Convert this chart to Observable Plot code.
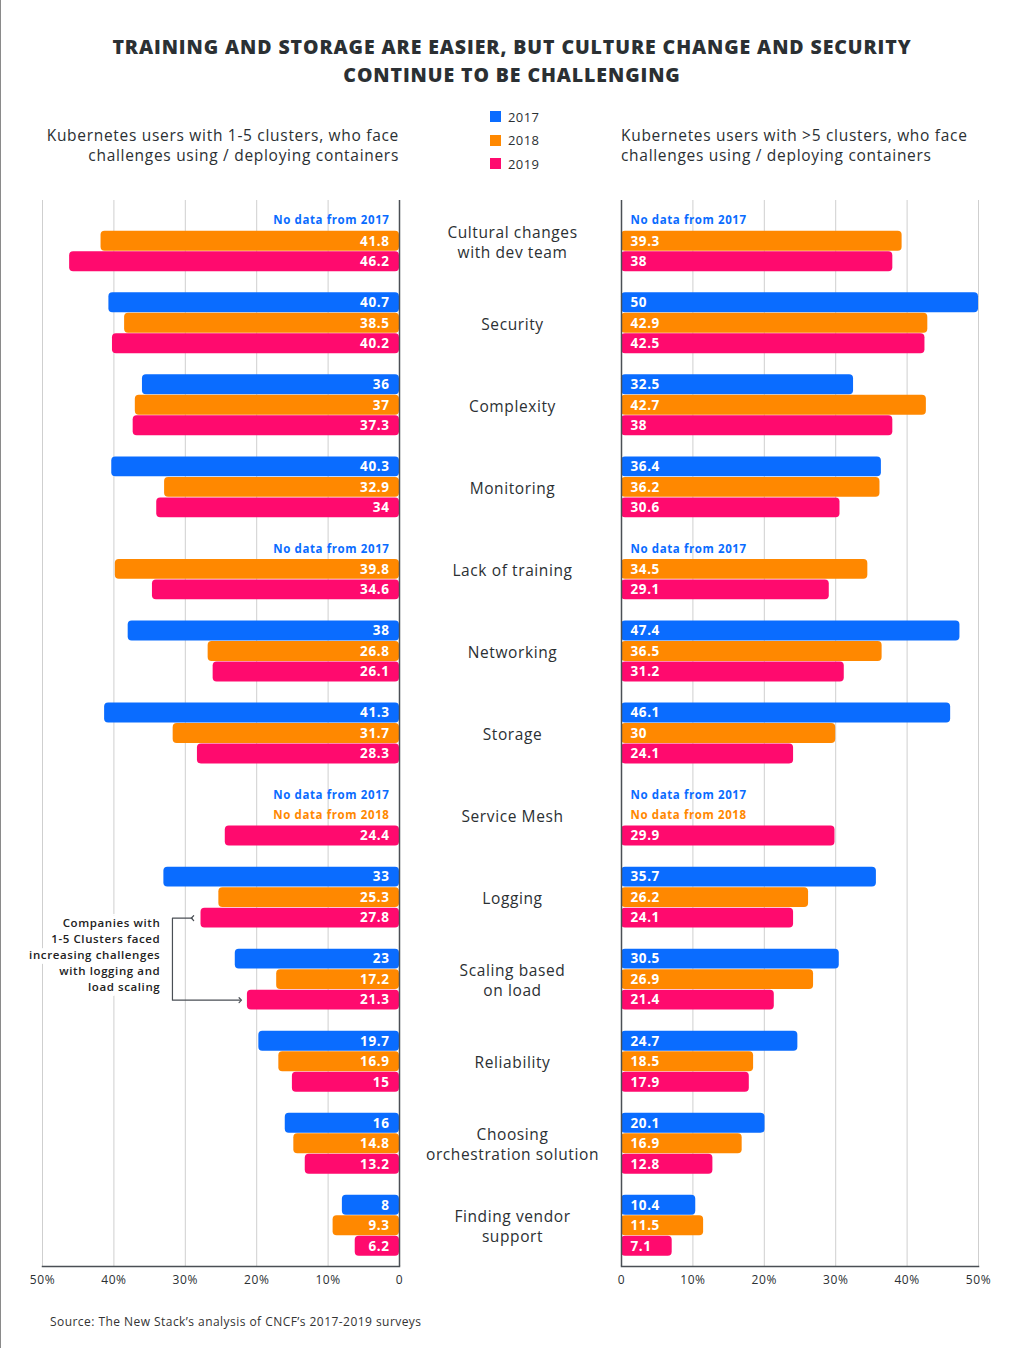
<!DOCTYPE html>
<html><head><meta charset="utf-8">
<script src="https://cdn.jsdelivr.net/npm/d3@7"></script>
<script src="https://cdn.jsdelivr.net/npm/@observablehq/plot@0.6"></script>
<style>
body{margin:0;background:#fff;}
#page{position:relative;width:1024px;height:1348px;font-family:"Open Sans",sans-serif;color:#2b3033;overflow:hidden;background:#fff;}
#border{position:absolute;left:0;top:0;width:1px;height:1348px;background:#8a8a8a;}
#title{position:absolute;left:0;top:33px;width:1024px;text-align:center;font-weight:800;font-size:19.5px;line-height:28px;color:#2b3033;letter-spacing:0.9px;}
.sub{position:absolute;top:125px;font-size:15.5px;line-height:20px;color:#2b3033;letter-spacing:0.7px;}
#subL{right:625px;text-align:right;}
#subR{left:621px;text-align:left;}
#legend{position:absolute;left:490px;top:105px;font-size:13px;letter-spacing:0.4px;}
#legend div{height:23.5px;display:flex;align-items:center;}
#legend span.sw{display:inline-block;width:11px;height:11px;margin-right:7px;}
#source{position:absolute;left:50px;top:1313px;font-size:12px;color:#333;letter-spacing:0.45px;}
.panel{position:absolute;top:190px;}
#left{left:0;}
#right{left:600px;}
</style></head><body>
<div id="page">
<div id="border"></div>
<div id="title">TRAINING AND STORAGE ARE EASIER, BUT CULTURE CHANGE AND SECURITY<br>CONTINUE TO BE CHALLENGING</div>
<div class="sub" id="subL">Kubernetes users with 1-5 clusters, who face<br>challenges using / deploying containers</div>
<div class="sub" id="subR">Kubernetes users with &gt;5 clusters, who face<br>challenges using / deploying containers</div>
<div id="legend"></div>
<div class="panel" id="left"></div>
<div class="panel" id="right"></div>
<div id="source">Source: The New Stack’s analysis of CNCF’s 2017-2019 surveys</div>
</div>
<script>
const categories = ["Cultural changes with dev team","Security","Complexity","Monitoring","Lack of training","Networking","Storage","Service Mesh","Logging","Scaling based on load","Reliability","Choosing orchestration solution","Finding vendor support"];
const categoryLines = ["Cultural changes\nwith dev team","Security","Complexity","Monitoring","Lack of training","Networking","Storage","Service Mesh","Logging","Scaling based\non load","Reliability","Choosing\norchestration solution","Finding vendor\nsupport"];
const years = [2017, 2018, 2019];
const yearColors = ["#0a6cff", "#ff8800", "#ff0a6e"];
// Kubernetes users with 1-5 clusters
const small2017 = [null, 40.7, 36, 40.3, null, 38, 41.3, null, 33, 23, 19.7, 16, 8];
const small2018 = [41.8, 38.5, 37, 32.9, 39.8, 26.8, 31.7, null, 25.3, 17.2, 16.9, 14.8, 9.3];
const small2019 = [46.2, 40.2, 37.3, 34, 34.6, 26.1, 28.3, 24.4, 27.8, 21.3, 15, 13.2, 6.2];
// Kubernetes users with >5 clusters
const large2017 = [null, 50, 32.5, 36.4, null, 47.4, 46.1, null, 35.7, 30.5, 24.7, 20.1, 10.4];
const large2018 = [39.3, 42.9, 42.7, 36.2, 34.5, 36.5, 30, null, 26.2, 26.9, 18.5, 16.9, 11.5];
const large2019 = [38, 42.5, 38, 30.6, 29.1, 31.2, 24.1, 29.9, 24.1, 21.4, 17.9, 12.8, 7.1];
const xTicks = [0, 10, 20, 30, 40, 50];
const annotationText = "Companies with\n1-5 Clusters faced\nincreasing challenges\nwith logging and\nload scaling";
const annotationCategories = ["Logging", "Scaling based on load"];

// legend
const legend = document.getElementById("legend");
years.forEach((y, i) => {
  const d = document.createElement("div");
  d.innerHTML = `<span class="sw" style="background:${yearColors[i]}"></span>${y}`;
  legend.appendChild(d);
});

const key = (c, y) => c + "|" + y;
const rowDomain = categories.flatMap((c, i) => {
  const r = years.map(y => key(c, y));
  if (i < categories.length - 1) r.push(key(c, "gap"));
  return r;
});
function rows(series) {
  return categories.flatMap((c, i) => years.map((y, j) => ({category: c, year: y, value: series[j][i], row: key(c, y)})));
}
const tickFormat = d => d === 0 ? "0" : d + "%";

function panel({series, isLeft}) {
  const data = rows(series);
  const bars = data.filter(d => d.value != null);
  const missing = data.filter(d => d.value == null);
  const anchor = isLeft ? "end" : "start";
  const dx = isLeft ? -10 : 9;
  const marks = [
    Plot.ruleX(xTicks.filter(t => t > 0), {stroke: "#cfcfcf", strokeWidth: 1})
  ];
  if (isLeft) {
    const lookup = (c, y) => data.find(d => d.category === c && d.year === y).value;
    const bracketX = 31.8;
    const pts = [
      {x: lookup(annotationCategories[0], 2019) + 1.2, row: key(annotationCategories[0], 2019)},
      {x: bracketX, row: key(annotationCategories[0], 2019)},
      {x: bracketX, row: key(annotationCategories[1], 2019)},
      {x: lookup(annotationCategories[1], 2019) + 1.0, row: key(annotationCategories[1], 2019)}
    ];
    marks.push(
      Plot.text([{t: annotationText, x: 33.5, row: key(annotationCategories[1], 2017)}], {
        x: "x", y: "row", text: "t", textAnchor: "end", fontSize: 11.5, lineHeight: 1.39, dy: -5,
        fill: "#222", fontWeight: 600, stroke: "white", strokeWidth: 10, paintOrder: "stroke", letterSpacing: 0.4
      }),
      Plot.line(pts, {x: "x", y: "row", stroke: "#4a4f55", strokeWidth: 1.2, markerStart: "arrow", markerEnd: "arrow"})
    );
  }
  marks.push(
    Plot.barX(bars, {x1: 0, x2: "value", y: "row", fill: "year", rx: 4}),
    Plot.text(bars, {x: 0, y: "row", text: d => String(d.value), textAnchor: anchor, dx, fill: "white", fontWeight: 700, fontSize: 13.5}),
    Plot.text(missing, {x: 0, y: "row", text: d => `No data from ${d.year}`, textAnchor: anchor, dx, fill: "year", fontWeight: 700, fontSize: 11.5}),
    Plot.ruleX([0], {stroke: "#4a4f55", strokeWidth: 1.5}),
    Plot.frame({anchor: "bottom", stroke: "#4a4f55", strokeWidth: 1.5}),
    Plot.axisX({ticks: xTicks, tickFormat, tickSize: 0, tickPadding: 9, fontSize: 12, fill: "#2b3033", label: null})
  );
  if (isLeft) {
    marks.push(Plot.text(categories, {
      y: d => key(d, 2018), text: (d, i) => categoryLines[i], frameAnchor: "right", dx: 113,
      textAnchor: "middle", fontSize: 15.5, lineHeight: 1.3, fill: "#2b3033", fontWeight: 500
    }));
  }
  return Plot.plot({
    width: isLeft ? 640 : 424,
    height: 1110,
    marginTop: 10,
    marginBottom: 34,
    marginLeft: isLeft ? 42 : 21,
    marginRight: isLeft ? 241 : 46,
    style: {fontFamily: "Open Sans, sans-serif", background: "transparent", overflow: "visible", color: "#2b3033", letterSpacing: "0.6px"},
    x: {domain: [0, 50], reverse: isLeft, label: null},
    y: {type: "band", domain: rowDomain, paddingInner: 0.03, paddingOuter: 0.5, round: false, axis: null},
    color: {type: "ordinal", domain: years, range: yearColors},
    marks
  });
}

document.getElementById("left").appendChild(panel({series: [small2017, small2018, small2019], isLeft: true}));
document.getElementById("right").appendChild(panel({series: [large2017, large2018, large2019], isLeft: false}));
</script>
</body></html>
